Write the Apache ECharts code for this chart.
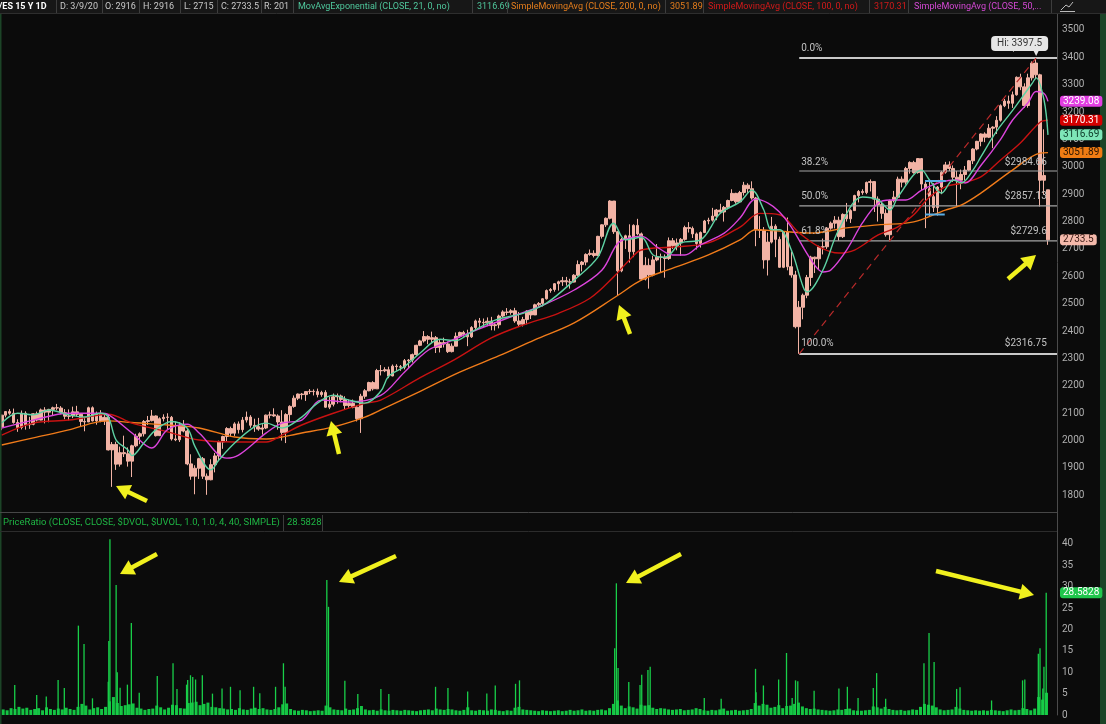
<!DOCTYPE html>
<html><head><meta charset="utf-8">
<script src="https://cdn.jsdelivr.net/npm/echarts@6/dist/echarts.min.js"></script>
<style>html,body{margin:0;padding:0;background:#0b0b0b;}#c{width:1106px;height:724px;}</style>
</head><body><div id="c"></div>
<script>
// ---------- DATA ----------
const firstWeek = '2015-02-09';           // Monday of the first weekly bar
const axisStart = '2015-02-08', axisEnd = '2020-03-27';
// weekly candles [open, close, low, high]
const candles = [
[2048,2093,2038,2094],[2093,2106,2085,2108],[2106,2100,2094,2115],[2100,2066,2062,2117],[2066,2048,2032,2078],
[2048,2100,2041,2110],[2100,2058,2040,2107],[2058,2060,2043,2087],[2060,2098,2056,2100],[2098,2075,2070,2106],
[2075,2112,2074,2117],[2112,2104,2063,2122],[2104,2114,2067,2116],[2114,2120,2090,2124],[2120,2119,2111,2134],
[2119,2102,2096,2126],[2102,2089,2078,2115],[2089,2090,2074,2114],[2090,2105,2082,2124],[2105,2096,2088,2127],
[2096,2070,2050,2100],[2070,2068,2034,2085],[2068,2120,2068,2124],[2120,2072,2070,2125],[2072,2096,2058,2106],
[2096,2072,2067,2111],[2072,2085,2057,2095],[2085,1966,1964,2096],[1966,1986,1831,1995],[1986,1914,1893,1996],
[1914,1956,1905,1978],[1956,1952,1940,2018],[1952,1925,1905,1975],[1925,1981,1867,1985],[1981,2016,1976,2025],
[2016,2025,1987,2030],[2025,2070,2015,2075],[2070,2073,2057,2090],[2073,2090,2070,2112],[2090,2018,2015,2092],
[2018,2080,2018,2085],[2080,2085,2070,2096],[2085,2086,2038,2100],[2085,2006,2000,2090],[2006,2003,1998,2070],
[2003,2055,1995,2067],[2055,2035,2030,2075],[2035,1915,1910,2045],[1915,1870,1857,1950],[1870,1899,1804,1910],
[1899,1934,1860,1937],[1934,1870,1860,1940],[1870,1857,1802,1880],[1857,1912,1855,1932],[1912,1944,1884,1955],
[1944,1995,1925,2000],[1995,2015,1970,2018],[2015,2044,1997,2049],[2044,2027,2014,2051],[2027,2061,2017,2067],
[2061,2040,2026,2070],[2040,2075,2030,2086],[2075,2086,2066,2106],[2086,2056,2047,2093],[2056,2051,2032,2080],
[2051,2042,2036,2083],[2042,2046,2022,2060],[2046,2093,2042,2095],[2093,2094,2081,2106],[2094,2090,2087,2118],
[2090,2068,2040,2096],[2068,2030,2000,2111],[2030,2095,1991,2100],[2095,2125,2070,2129],[2125,2155,2120,2165],
[2155,2170,2148,2172],[2170,2168,2150,2174],[2168,2179,2145,2180],[2179,2180,2170,2188],[2180,2179,2165,2187],
[2179,2168,2158,2190],[2168,2176,2160,2182],[2176,2122,2120,2184],[2122,2133,2115,2160],[2133,2160,2125,2172],
[2160,2163,2135,2172],[2163,2150,2140,2168],[2150,2128,2113,2162],[2128,2136,2120,2150],[2136,2122,2118,2150],
[2122,2080,2070,2128],[2080,2162,2028,2171],[2162,2182,2153,2188],[2182,2212,2180,2215],[2212,2189,2183,2217],
[2189,2256,2189,2262],[2256,2255,2238,2276],[2255,2259,2250,2268],[2259,2236,2228,2270],[2236,2272,2235,2278],
[2272,2270,2255,2279],[2270,2268,2255,2276],[2268,2292,2260,2298],[2292,2294,2265,2298],[2294,2314,2285,2318],
[2314,2348,2310,2350],[2348,2364,2345,2368],[2364,2380,2358,2400],[2380,2370,2352,2385],[2370,2376,2358,2398],
[2376,2340,2320,2382],[2340,2358,2322,2368],[2358,2353,2340,2376],[2353,2325,2320,2362],[2325,2345,2322,2355],
[2345,2381,2345,2395],[2381,2395,2375,2398],[2395,2388,2380,2401],[2388,2379,2345,2405],[2379,2413,2375,2418],
[2413,2437,2400,2442],[2437,2432,2412,2448],[2432,2430,2415,2446],[2430,2436,2418,2450],[2436,2420,2403,2452],
[2420,2423,2402,2432],[2423,2455,2410,2460],[2455,2470,2450,2476],[2470,2468,2458,2484],[2468,2474,2460,2480],
[2474,2437,2430,2485],[2437,2425,2418,2470],[2425,2442,2417,2452],[2442,2473,2425,2476],[2473,2459,2444,2477],
[2459,2496,2459,2500],[2496,2501,2490,2506],[2501,2518,2490,2520],[2518,2548,2515,2552],[2548,2552,2540,2557],
[2552,2573,2544,2575],[2573,2580,2548,2584],[2580,2584,2565,2598],[2584,2580,2566,2598],[2580,2579,2555,2591],
[2579,2604,2578,2608],[2604,2643,2600,2658],[2643,2652,2618,2656],[2652,2680,2640,2684],[2680,2684,2675,2698],
[2684,2676,2669,2695],[2676,2746,2676,2748],[2746,2788,2738,2790],[2788,2812,2780,2815],[2812,2875,2808,2878],
[2875,2763,2755,2875],[2763,2620,2529,2765],[2620,2735,2615,2740],[2735,2748,2700,2752],[2748,2690,2650,2790],
[2690,2786,2670,2790],[2786,2755,2750,2810],[2755,2590,2585,2760],[2590,2640,2585,2670],[2640,2605,2555,2665],
[2605,2660,2600,2675],[2660,2670,2655,2718],[2670,2670,2615,2683],[2670,2665,2595,2680],[2665,2730,2660,2742],
[2730,2712,2700,2740],[2712,2722,2695,2738],[2722,2735,2675,2740],[2735,2778,2730,2785],[2778,2775,2760,2798],
[2775,2755,2740,2782],[2755,2720,2698,2760],[2720,2760,2705,2764],[2760,2802,2758,2806],[2802,2805,2790,2814],
[2805,2820,2800,2850],[2820,2842,2805,2846],[2842,2835,2830,2865],[2835,2852,2800,2857],[2852,2877,2845,2880],
[2877,2903,2874,2918],[2903,2872,2865,2905],[2872,2906,2870,2912],[2906,2933,2895,2945],[2933,2920,2905,2940],
[2920,2886,2880,2947],[2886,2770,2710,2890],[2770,2768,2740,2820],[2768,2660,2628,2780],[2660,2725,2603,2760],
[2725,2783,2720,2817],[2783,2735,2670,2790],[2735,2633,2631,2745],[2633,2762,2630,2765],[2762,2635,2622,2815],
[2635,2605,2595,2690],[2605,2416,2410,2620],[2416,2487,2317,2510],[2487,2531,2443,2537],[2531,2596,2520,2605],
[2596,2670,2565,2675],[2670,2664,2612,2672],[2664,2707,2625,2712],[2707,2708,2680,2738],[2708,2776,2700,2780],
[2776,2794,2770,2800],[2794,2805,2775,2820],[2805,2745,2730,2818],[2745,2826,2740,2830],[2826,2810,2800,2868],
[2810,2840,2795,2845],[2840,2895,2840,2898],[2895,2910,2870,2915],[2910,2906,2898,2918],[2906,2943,2900,2946],
[2943,2946,2910,2954],[2946,2882,2835,2946],[2882,2862,2800,2892],[2862,2830,2810,2870],[2830,2752,2745,2845],
[2752,2876,2728,2880],[2876,2889,2870,2912],[2889,2955,2885,2964],[2955,2944,2925,2965],[2944,2994,2935,3000],
[2994,3016,2975,3020],[3016,2979,2975,3022],[2979,3030,2975,3032],[3030,2937,2915,3030],[2937,2920,2776,2945],
[2920,2891,2820,2945],[2891,2851,2835,2940],[2851,2926,2822,2930],[2926,2980,2900,2985],[2980,3007,2975,3018],
[3007,2994,2985,3020],[2994,2962,2945,3005],[2962,2951,2855,2985],[2951,2972,2918,2990],[2972,2988,2950,3003],
[2988,3022,2985,3025],[3022,3065,3010,3068],[3065,3093,3060,3095],[3093,3120,3075,3122],[3120,3108,3090,3126],
[3108,3141,3105,3156],[3141,3145,3068,3148],[3145,3170,3120,3185],[3170,3223,3165,3228],[3223,3240,3218,3248],
[3240,3232,3212,3260],[3232,3263,3215,3275],[3263,3327,3260,3330],[3327,3292,3280,3340],[3292,3224,3215,3305],
[3224,3325,3216,3340],[3325,3379,3315,3385],[3379,3336,3320,3397.5],[3336,2951,2855,3340],[2951,2968,2900,3137],
[2916,2733.5,2715,2916]
];
// moving averages: [week index, value]
const ema21 = [[0,2064],[4,2100],[8,2094],[12,2112],[17,2094],[21,2086],[25,2100],[27,2086],[29,2002],[32,1966],[33,1945],[36,1991],[39,2039],[43,2070],[47,2045],[49,1977],[53,1893],[55,1929],[59,1991],[64,2050],[67,2064],[71,2046],[76,2086],[80,2137],[84,2166],[88,2148],[92,2137],[96,2180],[98,2235],[102,2270],[106,2320],[111,2370],[115,2365],[119,2397],[125,2440],[132,2465],[138,2502],[145,2586],[151,2670],[155,2794],[158,2733],[162,2743],[165,2678],[168,2670],[172,2722],[177,2733],[182,2830],[187,2872],[190,2915],[193,2843],[195,2770],[197,2770],[200,2696],[203,2561],[204,2543],[208,2623],[212,2770],[218,2890],[222,2879],[225,2842],[227,2890],[233,2988],[235,2952],[238,2904],[241,2952],[243,2941],[246,2988],[248,3036],[252,3130],[256,3205],[259,3265],[261,3305],[262,3325],[264,3244],[265,3116.69]];
const sma50 = [[0,2046],[8,2075],[17,2100],[25,2100],[27,2095],[33,2028],[38,1973],[42,2040],[47,2060],[50,2028],[57,1936],[60,1947],[67,2028],[71,2064],[76,2075],[81,2148],[88,2141],[96,2165],[102,2250],[108,2330],[113,2360],[119,2397],[128,2447],[136,2488],[145,2550],[152,2622],[156,2720],[159,2740],[162,2747],[166,2707],[170,2678],[173,2678],[177,2715],[183,2758],[187,2813],[191,2882],[194,2868],[197,2835],[200,2780],[205,2660],[208,2616],[210,2623],[214,2696],[218,2795],[222,2868],[225,2879],[229,2879],[233,2915],[238,2945],[242,2952],[244,2941],[248,3005],[253,3100],[256,3170],[260,3235],[262,3275],[264,3268],[265,3239.08]];
const sma100 = [[0,2020],[8,2064],[17,2075],[25,2094],[27,2096],[33,2064],[42,2032],[50,2002],[59,1995],[67,1995],[71,2020],[76,2057],[84,2100],[92,2136],[96,2148],[106,2230],[114,2290],[124,2375],[132,2422],[141,2465],[149,2520],[155,2598],[159,2660],[162,2696],[170,2707],[179,2722],[187,2780],[192,2830],[197,2825],[202,2758],[207,2708],[212,2685],[216,2696],[222,2751],[227,2781],[231,2825],[235,2890],[239,2927],[243,2940],[248,2963],[253,3025],[258,3087],[263,3163],[265,3170.31]];
const sma200 = [[0,1984],[8,2010],[17,2039],[23,2064],[27,2072],[33,2066],[42,2057],[50,2046],[59,2013],[67,2006],[76,2028],[84,2050],[92,2086],[96,2112],[106,2180],[116,2250],[126,2310],[135,2368],[145,2430],[156,2530],[162,2586],[170,2630],[179,2678],[187,2733],[191,2770],[197,2765],[205,2758],[214,2777],[222,2788],[231,2799],[239,2842],[243,2860],[248,2904],[256,2988],[263,3050],[265,3051.89]];
// fibonacci retracement
const fibStart = '2018-12-26';
const fibLevels = [3397.5, 2984.66, 2857.13, 2729.6, 2316.75];
const fibPct = ['0.0%', '38.2%', '50.0%', '61.8%', '100.0%'];
const fibPrice = ['$3397.5', '$2984.66', '$2857.13', '$2729.6', '$2316.75'];
const trendLine = [['2018-12-26', 2316.75], ['2020-02-19', 3397.5]];
const boxTop = [['2019-08-06', 2948], ['2019-09-12', 2948]];
const boxBottom = [['2019-08-06', 2826], ['2019-09-10', 2826]];
// PriceRatio: weekly base level + individual daily bars
const ratioBase = [
1.3,1.1,1.6,1.4,1.9,1.5,1.7,1.2,1.4,1.6, 1.1,1.8,1.4,1.2,1.5,1.3,1.7,1.4,1.2,1.9,
2.6,2.2,1.3,1.6,1.8,1.4,1.9,3.2,4.2,2.8, 2.1,2.3,2.5,2.7,1.7,1.5,1.2,1.4,1.5,2.2,
1.8,1.3,1.7,2.4,2.3,1.6,1.5,2.8,2.9,3.1, 2.3,2.6,2.9,1.9,1.8,1.6,1.5,1.3,1.4,1.2,
1.6,1.3,1.2,1.5,1.7,1.4,1.6,1.3,1.2,1.4, 1.8,2.5,2.7,1.4,1.1,1.0,1.2,1.1,0.9,1.0,
1.1,1.0,2.2,1.8,1.3,1.2,1.1,1.5,1.2,1.3, 1.6,2.1,1.3,1.1,1.2,1.0,1.3,1.1,1.0,1.2,
1.1,1.0,1.2,1.1,1.0,0.9,1.1,1.2,1.3,1.1, 1.5,1.3,1.2,1.4,1.3,1.1,1.0,1.2,1.8,1.1,
1.0,1.2,1.1,1.0,1.3,1.2,1.0,0.9,1.1,1.0, 1.7,1.9,1.3,1.2,1.1,1.0,0.9,1.1,1.0,0.9,
1.0,1.1,0.9,1.0,1.2,1.0,1.1,1.3,1.0,1.1, 1.0,1.2,1.3,1.1,1.6,2.6,3.4,2.2,1.6,2.0,
1.8,1.5,2.4,2.2,2.3,1.7,1.4,1.6,1.5,1.3, 1.2,1.3,1.4,1.1,1.2,1.3,1.6,1.4,1.1,1.0,
1.2,1.1,1.3,1.5,1.0,1.1,1.2,1.0,1.1,1.2, 1.4,2.8,2.2,2.6,2.4,1.7,1.9,2.3,1.6,2.1,
2.2,2.6,2.9,2.0,1.6,1.4,1.5,1.3,1.2,1.1, 1.0,1.1,1.3,1.2,1.4,1.5,1.1,1.0,1.0,1.1,
1.2,2.0,1.8,1.5,1.9,1.4,1.2,1.1,1.2,1.0, 1.1,1.3,1.2,1.9,2.6,2.4,2.2,1.8,1.3,1.1,
1.2,1.3,1.9,1.5,1.2,1.1,1.0,1.1,1.0,1.1, 1.0,1.2,1.1,1.0,0.9,1.1,1.3,1.1,1.2,1.6,
1.4,1.1,1.5,4.2,3.6,5.2
];
const ratioDays = [
['2015-03-05',7.0],['2015-04-13',4.7],['2015-04-30',4.3],['2015-05-21',8.2],['2015-06-01',6.3],['2015-06-26',20.9],
['2015-07-06',16.6],['2015-07-21',3.9],['2015-08-18',7.8],['2015-08-19',17.3],['2015-08-21',41.1],['2015-09-01',30.4],
['2015-09-03',10.0],['2015-09-08',6.4],['2015-09-21',7.1],['2015-09-28',21.5],['2015-10-12',5.2],['2015-11-13',9.1],
['2015-12-11',12.1],['2015-12-18',6.1],['2016-01-04',7.1],['2016-01-06',8.2],['2016-01-11',9.3],['2016-01-15',8.9],
['2016-01-20',8.3],['2016-02-01',9.3],['2016-02-19',5.0],['2016-03-07',6.2],['2016-03-22',6.6],['2016-04-08',5.8],
['2016-05-02',6.6],['2016-05-13',5.1],['2016-06-10',6.6],['2016-06-24',12.1],['2016-06-27',6.6],['2016-09-09',31.6],
['2016-09-12',25.3],['2016-10-11',8.0],['2016-11-03',4.9],['2016-12-14',6.1],['2016-12-28',4.9],['2017-03-21',6.6],
['2017-04-12',6.3],['2017-05-17',5.5],['2017-06-20',5.0],['2017-07-05',6.9],['2017-08-10',7.3],['2017-08-17',8.1],
['2018-02-02',15.6],['2018-02-05',30.8],['2018-02-08',11.0],['2018-02-27',7.7],['2018-03-19',7.0],['2018-03-22',9.4],
['2018-04-02',10.5],['2018-04-06',11.3],['2018-07-11',4.0],['2018-08-10',3.8],['2018-10-10',10.8],['2018-10-11',5.3],
['2018-10-24',6.9],['2018-11-20',8.3],['2018-12-04',14.5],['2018-12-14',4.0],['2018-12-20',8.1],['2018-12-24',7.9],
['2019-01-22',5.7],['2019-03-07',6.2],['2019-03-22',6.6],['2019-04-10',4.0],['2019-05-07',6.3],['2019-05-13',9.8],
['2019-05-29',3.8],['2019-08-05',12.1],['2019-08-14',19.2],['2019-08-23',12.4],['2019-10-02',6.1],['2019-10-08',6.5],
['2019-12-03',3.4],['2020-01-27',8.1],['2020-01-31',8.3],['2020-02-24',14.3],['2020-02-27',15.6],['2020-03-03',6.2],
['2020-03-05',11.3],['2020-03-09',28.5828]
];

// ---------- BUILD ----------
const DAY = 864e5;
const T = s => Date.parse(s);
const wkTime = k => T(firstWeek) + (7 * k + 2) * DAY;
const candleData = candles.map((c, k) => [wkTime(k), c[0], c[1], c[2], c[3]]);
const maData = arr => arr.map(p => [wkTime(p[0]), p[1]]);
const baseData = ratioBase.map((v, k) => [wkTime(k), v]);
const dayData = ratioDays.map(d => [T(d[0]), d[1]]);
const xMin = T(axisStart), xMax = T(axisEnd);

const chart = echarts.init(document.getElementById('c'), null, {renderer: 'canvas'});
const FONT = 'Roboto, "Open Sans", sans-serif';
const gridRight = 49;
const xBase = {type: 'time', min: xMin, max: xMax, show: false};
const yBase = {
  position: 'right', splitLine: {show: false}, axisTick: {show: false},
  axisLine: {show: true, lineStyle: {color: '#4b4b4b', width: 1}},
  axisLabel: {color: '#b0b0b0', fontSize: 10, fontFamily: FONT, margin: 5, formatter: v => String(v)}
};
const fibSeries = fibLevels.map((v, i) => ({
  type: 'line', xAxisIndex: 0, yAxisIndex: 0, silent: true, symbol: 'none', z: 4,
  data: [[T(fibStart), v], [xMax, v]],
  lineStyle: {color: (i === 0 || i === 4) ? '#c9c9c9' : '#a6a6a6', width: (i === 0 || i === 4) ? 2 : 1.2}
}));
const maLine = (data, color) => ({
  type: 'line', xAxisIndex: 0, yAxisIndex: 0, data: maData(data), symbol: 'none', smooth: 0.35,
  lineStyle: {color, width: 1.4}, z: 5, silent: true
});

chart.setOption({
  backgroundColor: '#0b0b0b',
  animation: false,
  grid: [
    {left: 0, right: gridRight, top: 2.54, height: 520.2, outerBoundsMode: 'none'},
    {left: 0, right: gridRight, top: 522.6, height: 192.4, outerBoundsMode: 'none'}
  ],
  xAxis: [
    Object.assign({gridIndex: 0}, xBase),
    Object.assign({gridIndex: 1}, xBase),
    Object.assign({gridIndex: 1}, xBase)
  ],
  yAxis: [
    Object.assign({gridIndex: 0, type: 'value', min: 1700, max: 3600, interval: 100}, yBase,
      {axisLabel: Object.assign({}, yBase.axisLabel, {showMinLabel: false, showMaxLabel: false})}),
    Object.assign({gridIndex: 1, type: 'value', min: 0, max: 45, interval: 5}, yBase,
      {axisLabel: Object.assign({}, yBase.axisLabel, {showMinLabel: true, showMaxLabel: false})})
  ],
  series: [
    {type: 'candlestick', xAxisIndex: 0, yAxisIndex: 0, data: candleData, barWidth: 3.2, z: 3, silent: true,
     itemStyle: {color: '#f2b3a5', color0: '#f2b3a5', borderColor: '#f2b3a5', borderColor0: '#f2b3a5', borderWidth: 1}},
    maLine(sma200, '#f07b1a'),
    maLine(sma100, '#c81212'),
    maLine(sma50, '#dc44dc'),
    maLine(ema21, '#5ed2a4'),
    ...fibSeries,
    {type: 'line', xAxisIndex: 0, yAxisIndex: 0, silent: true, symbol: 'none', z: 4,
     data: trendLine.map(p => [T(p[0]), p[1]]), lineStyle: {color: '#b82a2a', width: 1.2, type: [7, 5]}},
    {type: 'line', xAxisIndex: 0, yAxisIndex: 0, silent: true, symbol: 'none', z: 6,
     data: boxTop.map(p => [T(p[0]), p[1]]), lineStyle: {color: '#5aaee4', width: 2}},
    {type: 'line', xAxisIndex: 0, yAxisIndex: 0, silent: true, symbol: 'none', z: 6,
     data: boxBottom.map(p => [T(p[0]), p[1]]), lineStyle: {color: '#5aaee4', width: 2}},
    {type: 'bar', xAxisIndex: 1, yAxisIndex: 1, data: baseData, barWidth: 3, silent: true,
     itemStyle: {color: '#14c443'}},
    {type: 'bar', xAxisIndex: 2, yAxisIndex: 1, data: dayData, barWidth: 1.3, silent: true,
     itemStyle: {color: '#19cf49'}}
  ]
});

// ---------- ANNOTATIONS ----------
const px = (t, v) => chart.convertToPixel({gridIndex: 0}, [t, v]);
const pxR = (t, v) => chart.convertToPixel({gridIndex: 1}, [t, v]);
const g = [];
const Z = 50;
// header bar
g.push({type: 'rect', shape: {x: 0, y: 0, width: 1106, height: 13}, style: {fill: '#171717'}, z: Z});
g.push({type: 'line', shape: {x1: 0, y1: 13.5, x2: 1106, y2: 13.5}, style: {stroke: '#2e2e2e', lineWidth: 1}, z: Z});
const head = [
  [-1, '/ES 15 Y 1D', '#ffffff', 'bold'], [60, 'D: 3/9/20', '#c9c9c9'], [105, 'O: 2916', '#c9c9c9'],
  [143, 'H: 2916', '#c9c9c9'], [184, 'L: 2715', '#c9c9c9'], [221, 'C: 2733.5', '#c9c9c9'], [264, 'R: 201', '#c9c9c9'],
  [298, 'MovAvgExponential (CLOSE, 21, 0, no)', '#4fc79c'], [477, '3116.69', '#4fc79c'],
  [511, 'SimpleMovingAvg (CLOSE, 200, 0, no)', '#e47d1c'], [670, '3051.89', '#e47d1c'],
  [708, 'SimpleMovingAvg (CLOSE, 100, 0, no)', '#d21a1a'], [874, '3170.31', '#d21a1a'],
  [914, 'SimpleMovingAvg (CLOSE, 50,...', '#d548d5']
];
head.forEach(h => g.push({type: 'text', x: h[0], y: 6.5, z: Z + 1,
  style: {text: h[1], fill: h[2], font: (h[3] || 'normal') + ' 9px ' + FONT, textVerticalAlign: 'middle'}}));
[56, 102, 139, 180, 217, 261, 293, 472, 507, 665, 703, 869, 908, 1051].forEach(x =>
  g.push({type: 'line', shape: {x1: x + 0.5, y1: 0, x2: x + 0.5, y2: 13}, style: {stroke: '#3d3d3d', lineWidth: 1}, z: Z + 1}));
g.push({type: 'polyline', shape: {points: [[1061, 10], [1066, 5], [1069, 7], [1073, 2]]}, style: {stroke: '#bcbcbc', lineWidth: 1, fill: null}, z: Z + 1});
g.push({type: 'line', shape: {x1: 1060, y1: 11.5, x2: 1075, y2: 11.5}, style: {stroke: '#bcbcbc', lineWidth: 1}, z: Z + 1});

// separator + lower header
g.push({type: 'rect', shape: {x: 0, y: 510, width: 1057, height: 23}, style: {fill: '#0b0b0b'}, z: Z});
g.push({type: 'line', shape: {x1: 0, y1: 512.5, x2: 1057, y2: 512.5}, style: {stroke: '#474747', lineWidth: 1}, z: Z + 1});
g.push({type: 'line', shape: {x1: 0, y1: 531.5, x2: 1057, y2: 531.5}, style: {stroke: '#2c2c2c', lineWidth: 1}, z: Z + 1});
g.push({type: 'text', x: 3, y: 523, z: Z + 1, style: {text: 'PriceRatio (CLOSE, CLOSE, $DVOL, $UVOL, 1.0, 1.0, 4, 40, SIMPLE)', fill: '#1fb444', font: '9.5px ' + FONT, textVerticalAlign: 'middle'}});
g.push({type: 'text', x: 287, y: 523, z: Z + 1, style: {text: '28.5828', fill: '#1fb444', font: '9.5px ' + FONT, textVerticalAlign: 'middle'}});
[283, 322].forEach(x => g.push({type: 'line', shape: {x1: x + 0.5, y1: 515, x2: x + 0.5, y2: 531}, style: {stroke: '#3d3d3d', lineWidth: 1}, z: Z + 1}));

// fib labels
fibLevels.forEach((v, i) => {
  const a = px(T(fibStart), v);
  const b = px(T('2020-03-09'), v);
  const off = i === 4 ? 10 : 9;
  g.push({type: 'text', x: a[0] + 2, y: a[1] - off, z: Z - 5, style: {text: fibPct[i], fill: '#c3c3c3', font: '10px ' + FONT, textVerticalAlign: 'middle'}});
  g.push({type: 'text', x: b[0], y: b[1] - off, z: Z - 5, style: {text: fibPrice[i], fill: '#c3c3c3', font: '10px ' + FONT, textVerticalAlign: 'middle', textAlign: 'right'}});
});
// Hi bubble
const hi = px(T('2020-02-19'), 3397.5);
g.push({type: 'rect', shape: {x: hi[0] - 45, y: hi[1] - 22, width: 57, height: 15, r: 4}, style: {fill: '#e6e6e6'}, z: Z});
g.push({type: 'polygon', shape: {points: [[hi[0] - 3, hi[1] - 8], [hi[0] + 3, hi[1] - 8], [hi[0], hi[1] - 2]]}, style: {fill: '#e6e6e6'}, z: Z});
g.push({type: 'text', x: hi[0] - 16.5, y: hi[1] - 14.5, z: Z + 1, style: {text: 'Hi: 3397.5', fill: '#333333', font: '10px ' + FONT, textAlign: 'center', textVerticalAlign: 'middle'}});

// right-side value tags
const tag = (y, text, bg, fg) => g.push({type: 'text', x: 1060, y, z: Z + 2,
  style: {text, fill: fg, backgroundColor: bg, padding: [1, 3, 0, 3], borderRadius: 3, font: '10px ' + FONT, textVerticalAlign: 'middle'}});
tag(px(xMax, 3239.08)[1], '3239.08', '#e23ee2', '#ffffff');
tag(px(xMax, 3170.31)[1], '3170.31', '#d40000', '#ffffff');
tag(px(xMax, 3116.69)[1], '3116.69', '#7ee6b8', '#0d3a28');
tag(px(xMax, 3051.89)[1], '3051.89', '#f07c14', '#2a1400');
tag(px(xMax, 2733.5)[1], '2733.5', '#f4b9ab', '#3a1a14');
tag(pxR(xMax, 28.5828)[1], '28.5828', '#1fc64c', '#ffffff');

// yellow arrows
const arrow = (tip, tail) => {
  const dx = tip[0] - tail[0], dy = tip[1] - tail[1], L = Math.hypot(dx, dy), ux = dx / L, uy = dy / L;
  const hl = 14, hw = 8;
  const bx = tip[0] - ux * hl, by = tip[1] - uy * hl;
  g.push({type: 'line', shape: {x1: tail[0], y1: tail[1], x2: bx + ux, y2: by + uy}, style: {stroke: '#f0f01e', lineWidth: 4.5}, z: Z + 3});
  g.push({type: 'polygon', shape: {points: [tip, [bx - uy * hw, by + ux * hw], [bx + uy * hw, by - ux * hw]]}, style: {fill: '#f0f01e'}, z: Z + 3});
};
arrow([116, 486], [147, 501]);
arrow([331, 421], [339, 454]);
arrow([619, 305], [630, 334]);
arrow([1036, 255], [1008, 279]);
arrow([120, 574], [157, 554]);
arrow([339, 582], [396, 556]);
arrow([626, 583], [681, 554]);
arrow([1034, 595], [936, 571]);

// edge strips
g.push({type: 'rect', shape: {x: 1100, y: 14, width: 6, height: 710}, style: {fill: '#1c4427'}, z: Z});
g.push({type: 'rect', shape: {x: 0, y: 14, width: 1.5, height: 710}, style: {fill: '#1c4427'}, z: Z});

chart.setOption({graphic: g});
</script>
</body></html>
